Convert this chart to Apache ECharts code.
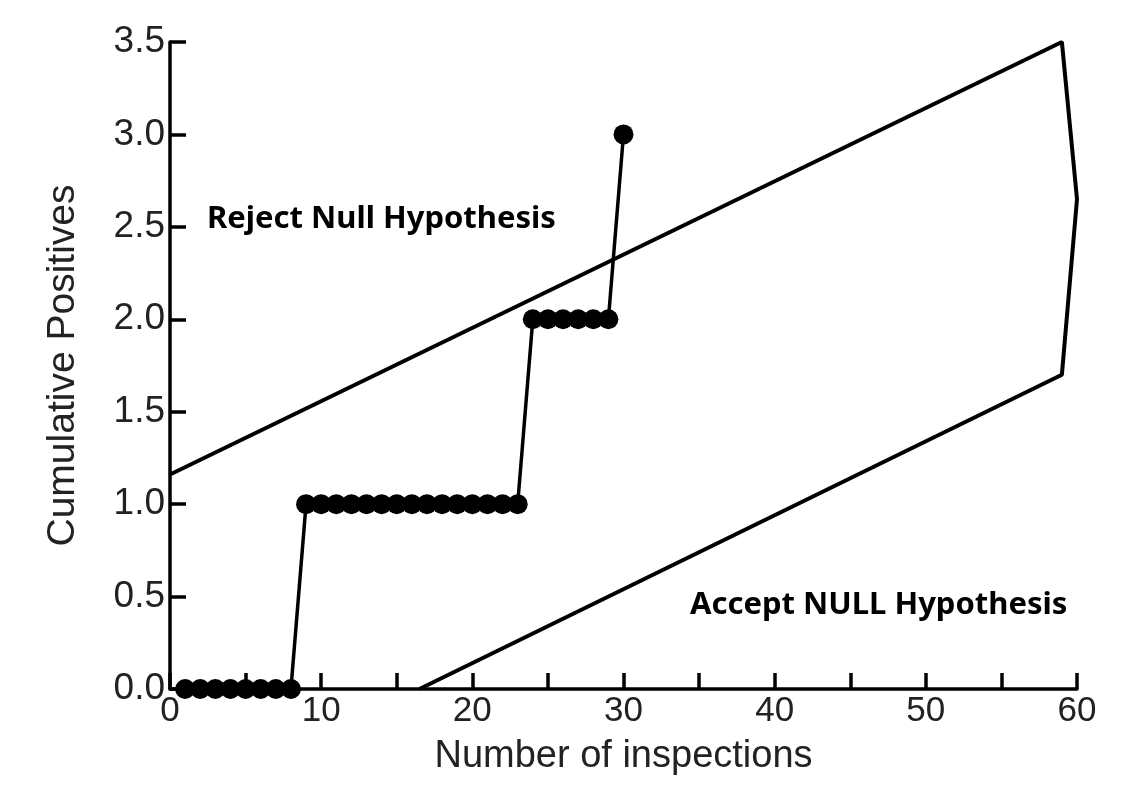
<!DOCTYPE html>
<html>
<head>
    <meta charset="utf-8">
    <title>Sequential test</title>
    <script src="https://cdn.jsdelivr.net/npm/echarts@6/dist/echarts.min.js"></script>
    <style>
        html, body { margin: 0; padding: 0; background: #fff; }
        #main { width: 1131px; height: 809px; }
    </style>
</head>
<body>
<div id="main"></div>
<script>
    // cumulative positives per inspection
    var inspections = [1, 2, 3, 4, 5, 6, 7, 8, 9, 10, 11, 12, 13, 14, 15, 16, 17, 18, 19, 20,
        21, 22, 23, 24, 25, 26, 27, 28, 29, 30];
    var positives = [0, 0, 0, 0, 0, 0, 0, 0, 1, 1, 1, 1, 1, 1, 1, 1, 1, 1, 1, 1,
        1, 1, 1, 2, 2, 2, 2, 2, 2, 3];

    // decision boundary outline (reject line, tip, accept line)
    var boundaryX = [0, 59, 60, 59, 16.5];
    var boundaryY = [1.16, 3.5, 2.65, 1.7, 0];

    var xTicks = [0, 10, 20, 30, 40, 50, 60];

    var stepData = [];
    for (var i = 0; i < inspections.length; i++) {
        stepData.push([inspections[i], positives[i]]);
    }
    var boundaryData = [];
    for (var j = 0; j < boundaryX.length; j++) {
        boundaryData.push([boundaryX[j], boundaryY[j]]);
    }

    var axisFont = 'Liberation Sans, Arial, sans-serif';
    var boldFont = 'bold 31px "Noto Sans", "Open Sans", sans-serif';
    var myChart = echarts.init(document.getElementById('main'));
    myChart.setOption({
        animation: false,
        grid: {left: 170, right: 54, top: 42, bottom: 120},
        xAxis: {
            type: 'value',
            min: 0,
            max: 60,
            interval: 5,
            name: 'Number of inspections',
            nameLocation: 'middle',
            nameGap: 49,
            nameTextStyle: {fontFamily: axisFont, fontSize: 38, color: '#222'},
            axisLine: {lineStyle: {color: '#000', width: 3.5}},
            axisTick: {inside: true, length: 16, lineStyle: {color: '#000', width: 3.5}},
            axisLabel: {
                fontFamily: axisFont, fontSize: 35, color: '#222', margin: 5,
                formatter: function (v) { return xTicks.indexOf(v) >= 0 ? String(v) : ''; }
            },
            splitLine: {show: false}
        },
        yAxis: {
            type: 'value',
            min: 0,
            max: 3.5,
            interval: 0.5,
            name: 'Cumulative Positives',
            nameLocation: 'middle',
            nameGap: 87,
            nameTextStyle: {fontFamily: axisFont, fontSize: 39, color: '#222'},
            axisLine: {show: true, lineStyle: {color: '#000', width: 3.5}},
            axisTick: {show: true, inside: true, length: 16, lineStyle: {color: '#000', width: 3.5}},
            axisLabel: {
                fontFamily: axisFont, fontSize: 37, color: '#222', margin: 5,
                formatter: function (v) { return v.toFixed(1); }
            },
            splitLine: {show: false}
        },
        series: [
            {
                name: 'boundary',
                type: 'line',
                data: boundaryData,
                symbol: 'none',
                lineStyle: {color: '#000', width: 4},
                z: 2
            },
            {
                name: 'positives',
                type: 'line',
                data: stepData,
                symbol: 'circle',
                symbolSize: 20,
                itemStyle: {color: '#000'},
                lineStyle: {color: '#000', width: 3.5},
                z: 3
            }
        ],
        graphic: [
            {
                type: 'text', left: 207, top: 204,
                style: {text: 'Reject Null Hypothesis', font: boldFont, fill: '#000'}
            },
            {
                type: 'text', left: 690, top: 590,
                style: {text: 'Accept NULL Hypothesis', font: boldFont, fill: '#000'}
            }
        ]
    });
</script>
</body>
</html>
